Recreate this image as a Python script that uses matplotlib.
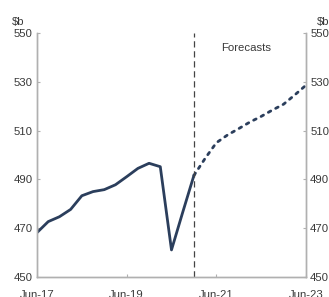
import matplotlib.pyplot as plt

# ----- Data (quarterly, $b) -----
actual_q = ["Jun-17", "Sep-17", "Dec-17", "Mar-18", "Jun-18", "Sep-18", "Dec-18",
            "Mar-19", "Jun-19", "Sep-19", "Dec-19", "Mar-20", "Jun-20", "Sep-20", "Dec-20"]
actual_v = [468.2, 472.7, 474.7, 477.7, 483.3, 485.0, 485.8,
            487.8, 491.1, 494.5, 496.6, 495.2, 461.1, 476.5, 491.6]
forecast_q = ["Dec-20", "Mar-21", "Jun-21", "Sep-21", "Dec-21", "Mar-22",
              "Jun-22", "Sep-22", "Dec-22", "Mar-23", "Jun-23"]
forecast_v = [491.6, 498.6, 505.0, 508.2, 510.8, 513.5,
              515.8, 518.4, 520.8, 524.6, 528.6]
all_q = ["Jun-17", "Sep-17", "Dec-17", "Mar-18", "Jun-18", "Sep-18", "Dec-18",
         "Mar-19", "Jun-19", "Sep-19", "Dec-19", "Mar-20", "Jun-20", "Sep-20",
         "Dec-20", "Mar-21", "Jun-21", "Sep-21", "Dec-21", "Mar-22", "Jun-22",
         "Sep-22", "Dec-22", "Mar-23", "Jun-23"]
xtick_labels = ["Jun-17", "Jun-19", "Jun-21", "Jun-23"]
yticks = [450, 470, 490, 510, 530, 550]
forecast_start = "Dec-20"

line_col = "#2b3e5c"
text_col = "#3a3a3a"
spine_col = "#b0b0b0"

plt.rcParams.update({"font.family": ["Liberation Sans", "DejaVu Sans"], "font.size": 8.2})

fig = plt.figure(figsize=(3.29, 2.97), dpi=100)
ax = fig.add_axes([0.1125, 0.0673, 0.8175, 0.8217])

idx = {q: i for i, q in enumerate(all_q)}
ax.plot([idx[q] for q in actual_q], actual_v, color=line_col, lw=2.0, solid_joinstyle="round")
ax.plot([idx[q] for q in forecast_q], forecast_v, color=line_col, lw=2.0,
        linestyle=(0, (1.0, 2.0)), dash_capstyle="round")
ax.axvline(idx[forecast_start], color="#444444", lw=0.9, linestyle=(0, (5, 3)))
ax.text(idx[forecast_start] + 2.4, 544, "Forecasts", color=text_col, fontsize=8.2, va="center")

ax.set_xlim(0, len(all_q) - 1)
ax.set_ylim(450, 550)
ax.set_xticks([idx[q] for q in xtick_labels])
ax.set_xticklabels(xtick_labels)
ax.set_yticks(yticks)

ax2 = ax.twinx()
ax2.set_ylim(450, 550)
ax2.set_yticks(yticks)

for a in (ax, ax2):
    a.spines["top"].set_visible(False)
    for s in ("left", "right", "bottom"):
        a.spines[s].set_color(spine_col)
        a.spines[s].set_linewidth(1.0)
    a.tick_params(direction="in", length=2.5, color=spine_col, labelcolor=text_col, width=0.8)
ax.tick_params(axis="x", pad=9)
ax.tick_params(axis="y", pad=3)
ax2.tick_params(axis="y", pad=3)

fig.text(0.036, 0.915, "$b", color=text_col, fontsize=8.2, va="baseline")
fig.text(0.962, 0.915, "$b", color=text_col, fontsize=8.2, va="baseline")

plt.savefig("out.png", dpi=100)
